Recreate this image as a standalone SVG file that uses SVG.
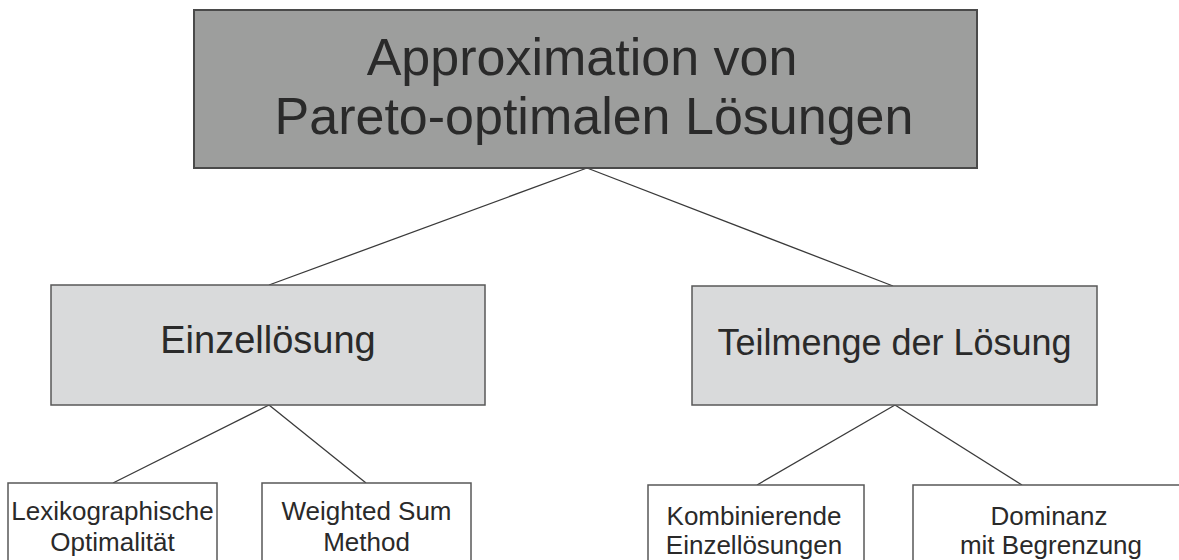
<svg xmlns="http://www.w3.org/2000/svg" width="1179" height="560" viewBox="0 0 1179 560">
  <style>
    .box { stroke: #585858; stroke-width: 1.5; }
    .root { fill: #9d9e9d; stroke: #4a4a4a; stroke-width: 2; }
    .mid { fill: #d9dadb; }
    .leaf { fill: #ffffff; }
    .link { stroke: #3a3a3a; stroke-width: 1.3; fill: none; }
    text { font-family: "Liberation Sans", Arial, sans-serif; fill: #2a2a2a; text-anchor: middle; }
    .t1 { font-size: 52px; }
    .t2 { font-size: 37px; }
    .t3 { font-size: 26px; }
  </style>
  <rect width="1179" height="560" fill="#ffffff"/>

  <g id="connectors">
    <line class="link" x1="587" y1="168" x2="269" y2="285"/>
    <line class="link" x1="587" y1="168" x2="893" y2="286"/>
    <line class="link" x1="269" y1="405" x2="113" y2="483"/>
    <line class="link" x1="269" y1="405" x2="366" y2="483"/>
    <line class="link" x1="895" y1="405" x2="757" y2="485"/>
    <line class="link" x1="895" y1="405" x2="1022" y2="485"/>
  </g>

  <g id="approximation">
    <rect class="box root" x="194" y="10" width="783" height="158"/>
    <text class="t1" x="582" y="75">Approximation von</text>
    <text class="t1" x="594" y="134">Pareto-optimalen Lösungen</text>
  </g>

  <g id="einzelloesung">
    <rect class="box mid" x="51" y="285" width="434" height="120"/>
    <text class="t2" x="268" y="353" style="font-size:38px">Einzellösung</text>
  </g>

  <g id="teilmenge">
    <rect class="box mid" x="692" y="286" width="405" height="119"/>
    <text class="t2" x="894.5" y="355" style="font-size:36px">Teilmenge der Lösung</text>
  </g>

  <g id="lexikographisch">
    <rect class="box leaf" x="8" y="483" width="209" height="90"/>
    <text class="t3" x="112.5" y="520">Lexikographische</text>
    <text class="t3" x="112.5" y="551">Optimalität</text>
  </g>

  <g id="weighted-sum">
    <rect class="box leaf" x="262" y="483" width="209" height="90"/>
    <text class="t3" x="366.5" y="520">Weighted Sum</text>
    <text class="t3" x="366.5" y="551">Method</text>
  </g>

  <g id="kombinierend">
    <rect class="box leaf" x="648" y="485" width="216" height="90"/>
    <text class="t3" x="754" y="525">Kombinierende</text>
    <text class="t3" x="754" y="554">Einzellösungen</text>
  </g>

  <g id="dominanz">
    <rect class="box leaf" x="913" y="485" width="274" height="90"/>
    <text class="t3" x="1049" y="525">Dominanz</text>
    <text class="t3" x="1051" y="554">mit Begrenzung</text>
  </g>
</svg>
